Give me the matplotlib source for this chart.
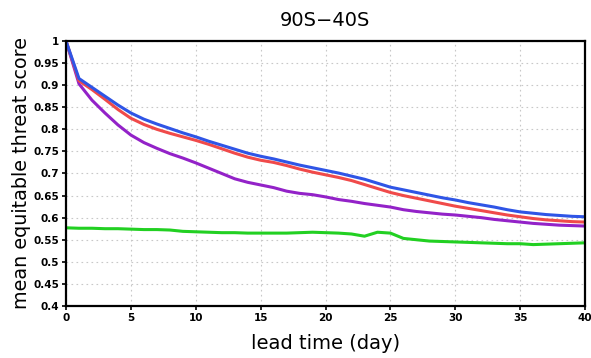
import matplotlib
matplotlib.use("Agg")
import matplotlib.pyplot as plt
import numpy as np

days = list(range(0, 41))
blue = [1.0, 0.915, 0.895, 0.875, 0.855, 0.837, 0.823, 0.812, 0.802, 0.792, 0.783,
        0.773, 0.764, 0.755, 0.746, 0.739, 0.733, 0.726, 0.719, 0.713, 0.707,
        0.701, 0.694, 0.687, 0.678, 0.669, 0.663, 0.657, 0.651, 0.645, 0.640,
        0.634, 0.629, 0.624, 0.618, 0.613, 0.610, 0.607, 0.605, 0.603, 0.602]
red = [1.0, 0.910, 0.890, 0.868, 0.845, 0.825, 0.811, 0.800, 0.791, 0.783, 0.775,
       0.766, 0.756, 0.746, 0.737, 0.730, 0.725, 0.718, 0.710, 0.703, 0.697,
       0.691, 0.684, 0.675, 0.666, 0.657, 0.650, 0.644, 0.638, 0.632, 0.626,
       0.621, 0.616, 0.611, 0.606, 0.602, 0.598, 0.595, 0.593, 0.591, 0.590]
purple = [1.0, 0.903, 0.866, 0.837, 0.810, 0.787, 0.770, 0.757, 0.745, 0.735, 0.724,
          0.712, 0.700, 0.688, 0.680, 0.674, 0.668, 0.660, 0.655, 0.652, 0.647,
          0.641, 0.637, 0.632, 0.628, 0.624, 0.618, 0.614, 0.611, 0.608, 0.606,
          0.603, 0.600, 0.596, 0.593, 0.590, 0.587, 0.585, 0.583, 0.582, 0.581]
green = [0.577, 0.576, 0.576, 0.575, 0.575, 0.574, 0.573, 0.573, 0.572, 0.569, 0.568,
         0.567, 0.566, 0.566, 0.565, 0.565, 0.565, 0.565, 0.566, 0.567, 0.566,
         0.565, 0.563, 0.558, 0.567, 0.565, 0.553, 0.550, 0.547, 0.546, 0.545,
         0.544, 0.543, 0.542, 0.541, 0.541, 0.539, 0.540, 0.541, 0.542, 0.543]

xticks = [0, 5, 10, 15, 20, 25, 30, 35, 40]
yticks = [0.4, 0.45, 0.5, 0.55, 0.6, 0.65, 0.7, 0.75, 0.8, 0.85, 0.9, 0.95, 1.0]
ytick_labels = ["0.4", "0.45", "0.5", "0.55", "0.6", "0.65", "0.7", "0.75", "0.8",
                "0.85", "0.9", "0.95", "1"]

fig = plt.figure(figsize=(5.91, 3.58), dpi=100)
ax = fig.add_axes([0.1117, 0.1453, 0.8783, 0.7402])

ax.plot(days, green, color="#22d022", lw=2.2)
ax.plot(days, purple, color="#9322c8", lw=2.2)
ax.plot(days, red, color="#f04a4a", lw=2.2)
ax.plot(days, blue, color="#2f55e6", lw=2.2)

ax.set_xlim(0, 40)
ax.set_ylim(0.4, 1.0)
ax.set_xticks(xticks)
ax.set_xticklabels([str(t) for t in xticks], fontweight="bold", fontsize=7.5)
ax.set_yticks(yticks)
ax.set_yticklabels(ytick_labels, fontweight="bold", fontsize=7.5)
ax.grid(True, color="#c8c8c8", linestyle=(0, (1.5, 3)), lw=0.8)
ax.tick_params(direction="out", length=3, width=1.2, pad=2)
for s in ax.spines.values():
    s.set_linewidth(1.6)

fig.text(325 / 591, 1 - 20 / 358, "90S\u221240S", fontsize=14, ha="center", va="center")
ax.set_xlabel("lead time (day)", fontsize=14)
ax.xaxis.set_label_coords(0.5, -0.14)
ax.xaxis.label.set_va("center")
ax.set_ylabel("mean equitable threat score", fontsize=13.8)
ax.yaxis.set_label_coords(-0.085, 0.5)
ax.yaxis.label.set_va("center")

fig.savefig("out.png", dpi=100)
